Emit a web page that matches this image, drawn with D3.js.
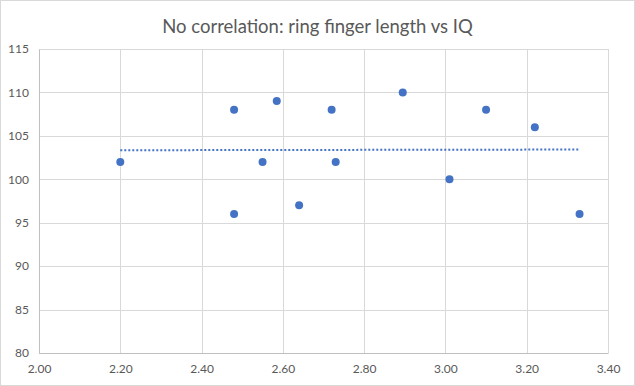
<!DOCTYPE html>
<html>
<head>
<meta charset="utf-8">
<script src="https://cdn.jsdelivr.net/npm/d3@7"></script>
<style>
  body { margin: 0; background: #fff; }
  svg text { font-family: Lato, "Open Sans", sans-serif; }
</style>
</head>
<body>
<div id="chart"></div>
<script>
// finger length (x) and IQ (y)
const fingerLength = [2.20, 2.48, 2.48, 2.55, 2.585, 2.64, 2.72, 2.73, 2.895, 3.01, 3.10, 3.22, 3.33];
const iq = [102, 108, 96, 102, 109, 97, 108, 102, 110, 100, 108, 106, 96];
const xTicks = [2.0, 2.2, 2.4, 2.6, 2.8, 3.0, 3.2, 3.4];
const yTicks = [80, 85, 90, 95, 100, 105, 110, 115];

const W = 635, H = 386;
const margin = { top: 49, right: 27, bottom: 33, left: 39 };
const width = W - margin.left - margin.right,
      height = H - margin.top - margin.bottom;

const root = d3.select("#chart").append("svg")
    .attr("width", W)
    .attr("height", H);

// chart border
root.append("rect")
    .attr("x", 0.5).attr("y", 0.5)
    .attr("width", W - 1).attr("height", H - 1)
    .attr("fill", "#fff")
    .attr("stroke", "#d9d9d9");

root.append("text")
    .attr("x", W / 2)
    .attr("y", 33)
    .attr("text-anchor", "middle")
    .style("font-size", "18.5px")
    .style("fill", "#595959")
    .text("No correlation: ring finger length vs IQ");

const svg = root.append("g")
    .attr("transform", `translate(${margin.left},${margin.top})`);

const x = d3.scaleLinear().domain([2.0, 3.4]).range([0, width]);
const y = d3.scaleLinear().domain([80, 115]).range([height, 0]);

// gridlines
svg.append("g")
    .selectAll("line.vgrid")
    .data(xTicks)
    .enter()
    .append("line")
    .attr("x1", d => Math.round(x(d)) + 0.5)
    .attr("x2", d => Math.round(x(d)) + 0.5)
    .attr("y1", 0)
    .attr("y2", height)
    .attr("stroke", "#d9d9d9");

svg.append("g")
    .selectAll("line.hgrid")
    .data(yTicks)
    .enter()
    .append("line")
    .attr("x1", 0)
    .attr("x2", width)
    .attr("y1", d => Math.round(y(d)) + 0.5)
    .attr("y2", d => Math.round(y(d)) + 0.5)
    .attr("stroke", "#d9d9d9");

// axes
const xAxis = svg.append("g")
    .attr("transform", `translate(0,${height})`)
    .call(d3.axisBottom(x).tickValues(xTicks).tickFormat(d3.format(".2f")).tickSize(0).tickPadding(11));
const yAxis = svg.append("g")
    .call(d3.axisLeft(y).tickValues(yTicks).tickSize(0).tickPadding(10));

[xAxis, yAxis].forEach(a => {
    a.select(".domain").attr("stroke", "#bfbfbf");
    a.selectAll("text").style("font-size", "12px").style("fill", "#595959").style("font-family", "Lato, sans-serif");
});

// linear trendline (least squares)
const n = fingerLength.length;
const mx = d3.mean(fingerLength), my = d3.mean(iq);
let sxy = 0, sxx = 0;
for (let i = 0; i < n; i++) {
    sxy += (fingerLength[i] - mx) * (iq[i] - my);
    sxx += (fingerLength[i] - mx) ** 2;
}
const slope = sxy / sxx, intercept = my - slope * mx;
const ends = d3.extent(fingerLength);

svg.append("line")
    .attr("x1", x(ends[0]))
    .attr("x2", x(ends[1]))
    .attr("y1", y(intercept + slope * ends[0]))
    .attr("y2", y(intercept + slope * ends[1]))
    .attr("stroke", "#4472c4")
    .attr("stroke-width", 2)
    .attr("stroke-dasharray", "2,2");

// points
svg.selectAll("circle")
    .data(fingerLength.map((d, i) => ({ x: d, y: iq[i] })))
    .enter()
    .append("circle")
    .attr("cx", d => x(d.x))
    .attr("cy", d => y(d.y))
    .attr("r", 4)
    .attr("fill", "#4472c4");
</script>
</body>
</html>
